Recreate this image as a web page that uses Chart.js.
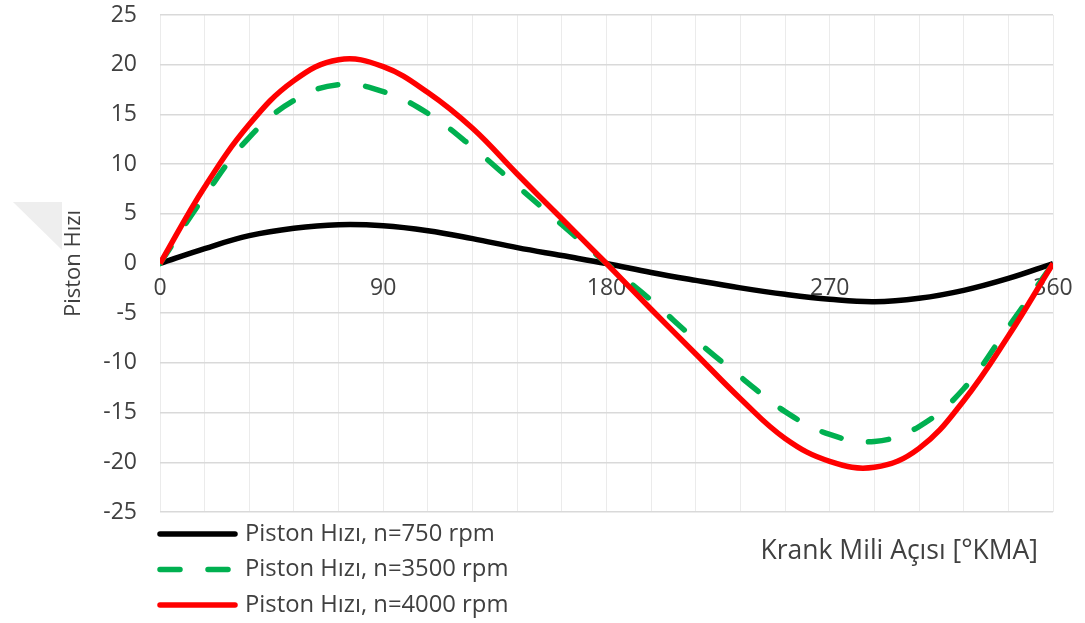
<!DOCTYPE html>
<html>
<head>
<meta charset="utf-8">
<script src="https://cdn.jsdelivr.net/npm/chart.js@4.4.1/dist/chart.umd.min.js"></script>
<style>
  html, body { margin: 0; padding: 0; background: #ffffff; }
  #wrap { width: 1085px; height: 623px; position: relative; }
</style>
</head>
<body>
<div id="wrap"><canvas id="c" width="1085" height="623"></canvas></div>
<script>
// Crank angle [°KMA]
const angles = [0, 18, 36, 54, 72, 90, 108, 126, 144, 162, 180, 198, 216, 234, 252, 270, 288, 306, 324, 342, 360];
// Piston speed, n=750 rpm
const v750 = [0, 1.5, 2.8, 3.55, 3.9, 3.8, 3.3, 2.5, 1.6, 0.8, 0, -0.9, -1.7, -2.45, -3.1, -3.6, -3.85, -3.5, -2.7, -1.5, 0];
// Piston speed, n=3500 rpm
const v3500 = [0, 6.8, 12.7, 16.4, 18.0, 17.3, 15.1, 11.7, 7.8, 3.9, 0, -3.7, -7.7, -11.4, -14.9, -17.2, -17.9, -16.4, -12.6, -6.4, 0];
// Piston speed, n=4000 rpm
const v4000 = [0, 7.7, 14.0, 18.4, 20.5, 19.8, 17.2, 13.6, 9.0, 4.5, 0, -4.6, -9.1, -13.6, -17.6, -19.9, -20.5, -18.6, -13.8, -7.3, 0];

const seriesLabels = ['Piston Hızı, n=750 rpm', 'Piston Hızı, n=3500 rpm', 'Piston Hızı, n=4000 rpm'];
const xTickLabels = ['0', '90', '180', '270', '360'];
const xTitle = 'Krank Mili Açısı [°KMA]';
const yTitle = 'Piston Hızı';

const FONT = "'Open Sans', 'Noto Sans', sans-serif";
const TXT = '#404040';

function pts(vals) { return angles.map((a, i) => ({ x: a, y: vals[i] })); }

const GREEN_DASH = [20, 28];

function zeroPad(s) { s.paddingLeft = 0; s.paddingRight = 0; s.paddingTop = 0; s.paddingBottom = 0; }

const legendPlugin = {
  id: 'customLegend',
  beforeDraw(chart) {
    const ctx = chart.ctx;
    ctx.save();
    // faint grey triangle at left (artifact in reference)
    ctx.fillStyle = '#eeeeee';
    ctx.beginPath();
    ctx.moveTo(13, 202); ctx.lineTo(62, 202); ctx.lineTo(62, 250); ctx.closePath();
    ctx.fill();
    ctx.restore();
  },
  afterDraw(chart) {
    const ctx = chart.ctx;
    ctx.save();
    const rows = [534, 569.5, 605];
    chart.data.datasets.slice().sort((a, b) => a.legendIndex - b.legendIndex).forEach((ds, i) => {
      const y = rows[i];
      ctx.strokeStyle = ds.borderColor;
      ctx.lineWidth = 5.5;
      ctx.lineCap = 'round';
      ctx.setLineDash(ds.borderDash || []);
      ctx.beginPath();
      ctx.moveTo(160, y);
      ctx.lineTo(235, y);
      ctx.stroke();
      ctx.setLineDash([]);
      ctx.fillStyle = TXT;
      ctx.font = '23.8px ' + FONT;
      ctx.textAlign = 'left';
      ctx.textBaseline = 'middle';
      ctx.fillText(ds.label, 245, y);
    });
    ctx.font = '26.5px ' + FONT;
    ctx.textAlign = 'right';
    ctx.textBaseline = 'middle';
    ctx.fillStyle = TXT;
    ctx.fillText(xTitle, 1038, 551);
    ctx.restore();
  }
};

new Chart(document.getElementById('c'), {
  type: 'line',
  data: {
    datasets: [
      { label: seriesLabels[2], legendIndex: 2, data: pts(v4000), borderColor: '#FF0000', borderWidth: 5.5, order: 0 },
      { label: seriesLabels[1], legendIndex: 1, data: pts(v3500), borderColor: '#00B050', borderWidth: 5.5, borderDash: GREEN_DASH, borderCapStyle: 'round', order: 1 },
      { label: seriesLabels[0], legendIndex: 0, data: pts(v750), borderColor: '#000000', borderWidth: 5.5, order: 2 }
    ]
  },
  options: {
    responsive: false,
    animation: false,
    devicePixelRatio: 1,
    layout: { padding: { top: 15, right: 32, bottom: 111, left: 0 } },
    elements: { point: { radius: 0 }, line: { tension: 0.4, fill: false } },
    plugins: { legend: { display: false }, tooltip: { enabled: false } },
    scales: {
      x: {
        type: 'linear',
        position: { y: 0 },
        min: 0, max: 360,
        afterFit: zeroPad,
        border: { display: false },
        grid: { color: '#ebebeb', lineWidth: 1, drawTicks: false },
        ticks: {
          stepSize: 18,
          autoSkip: false,
          maxRotation: 0,
          padding: 11,
          color: TXT,
          font: { family: FONT, size: 23 },
          callback: (v) => { const s = String(v); return xTickLabels.includes(s) ? s : ''; }
        }
      },
      y: {
        type: 'linear',
        position: 'left',
        min: -25, max: 25,
        afterFit: (s) => { s.width = 160; zeroPad(s); },
        border: { display: false },
        grid: { color: '#d9d9d9', lineWidth: 1.5, drawTicks: false },
        ticks: { stepSize: 5, padding: 23, color: TXT, font: { family: FONT, size: 23 } },
        title: { display: true, text: yTitle, color: TXT, font: { family: FONT, size: 22 }, padding: { top: 61, bottom: 0 } }
      }
    }
  },
  plugins: [legendPlugin]
});
</script>
</body>
</html>
